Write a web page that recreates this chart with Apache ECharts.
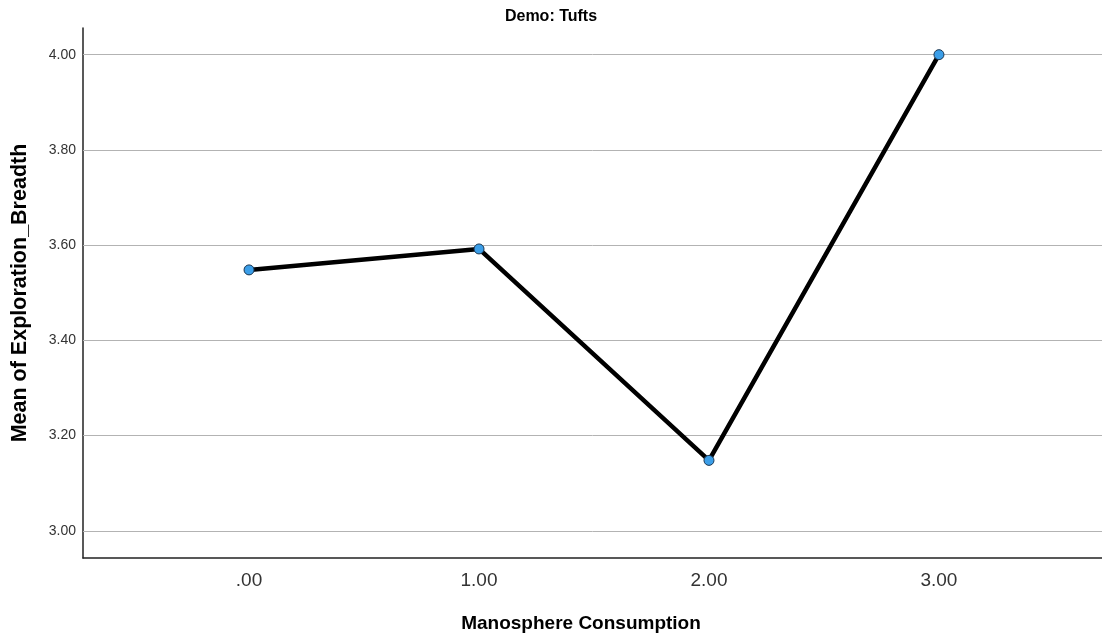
<!DOCTYPE html>
<html><head><meta charset="utf-8">
<script src="https://cdn.jsdelivr.net/npm/echarts@6/dist/echarts.min.js"></script>
<style>html,body{margin:0;padding:0;background:#fff}#c{width:1102px;height:640px}</style>
</head><body><div id="c"></div>
<script>
const categories = [0, 1, 2, 3];
const categoryLabels = ['.00', '1.00', '2.00', '3.00'];
const means = [3.548, 3.592, 3.148, 4.00];
const yTicks = [3.0, 3.2, 3.4, 3.6, 3.8, 4.0];

const chart = echarts.init(document.getElementById('c'));
const font = '"Liberation Sans", Arial, sans-serif';
chart.setOption({
  animation: false,
  title: {text: 'Demo: Tufts', left: 'center', top: 4,
    textStyle: {fontFamily: font, fontSize: 16, fontWeight: 'bold', color: '#000'}},
  grid: {left: 83, right: 0, top: 28, bottom: 82, containLabel: false},
  xAxis: {
    type: 'value', min: -0.722, max: 3.709,
    name: 'Manosphere Consumption', nameLocation: 'middle', nameGap: 56,
    nameTextStyle: {fontFamily: font, fontSize: 19, fontWeight: 'bold', color: '#000', padding: [0, 23, 0, 0]},
    axisLine: {show: true, onZero: false, lineStyle: {color: '#222', width: 1.5}},
    axisTick: {show: false},
    splitLine: {show: false},
    axisLabel: {customValues: categories, fontFamily: font, fontSize: 19, color: '#333', margin: 13,
      formatter: v => categoryLabels[categories.indexOf(Math.round(v))] || ''}
  },
  yAxis: {
    type: 'value', min: 2.943, max: 4.056,
    name: 'Mean of Exploration_Breadth', nameLocation: 'middle', nameGap: 52,
    nameTextStyle: {fontFamily: font, fontSize: 21.5, fontWeight: 'bold', color: '#000'},
    axisLine: {show: true, onZero: false, lineStyle: {color: '#222', width: 1.5}},
    axisTick: {show: false, customValues: yTicks},
    splitLine: {show: false},
    axisLabel: {customValues: yTicks, fontFamily: font, fontSize: 14, color: '#333', margin: 7,
      formatter: v => v.toFixed(2)}
  },
  series: [{
    type: 'line',
    data: categories.map((c, i) => [c, means[i]]),
    lineStyle: {color: '#000', width: 4.5},
    symbol: 'circle', symbolSize: 10,
    itemStyle: {color: '#3b9ee8', borderColor: '#1a3550', borderWidth: 1},
    z: 5,
    markLine: {
      silent: true, symbol: 'none', label: {show: false},
      lineStyle: {color: '#b3b3b3', width: 1, type: 'solid'},
      data: yTicks.map(t => ({yAxis: t})),
      z: 1
    }
  }]
});
</script></body></html>
